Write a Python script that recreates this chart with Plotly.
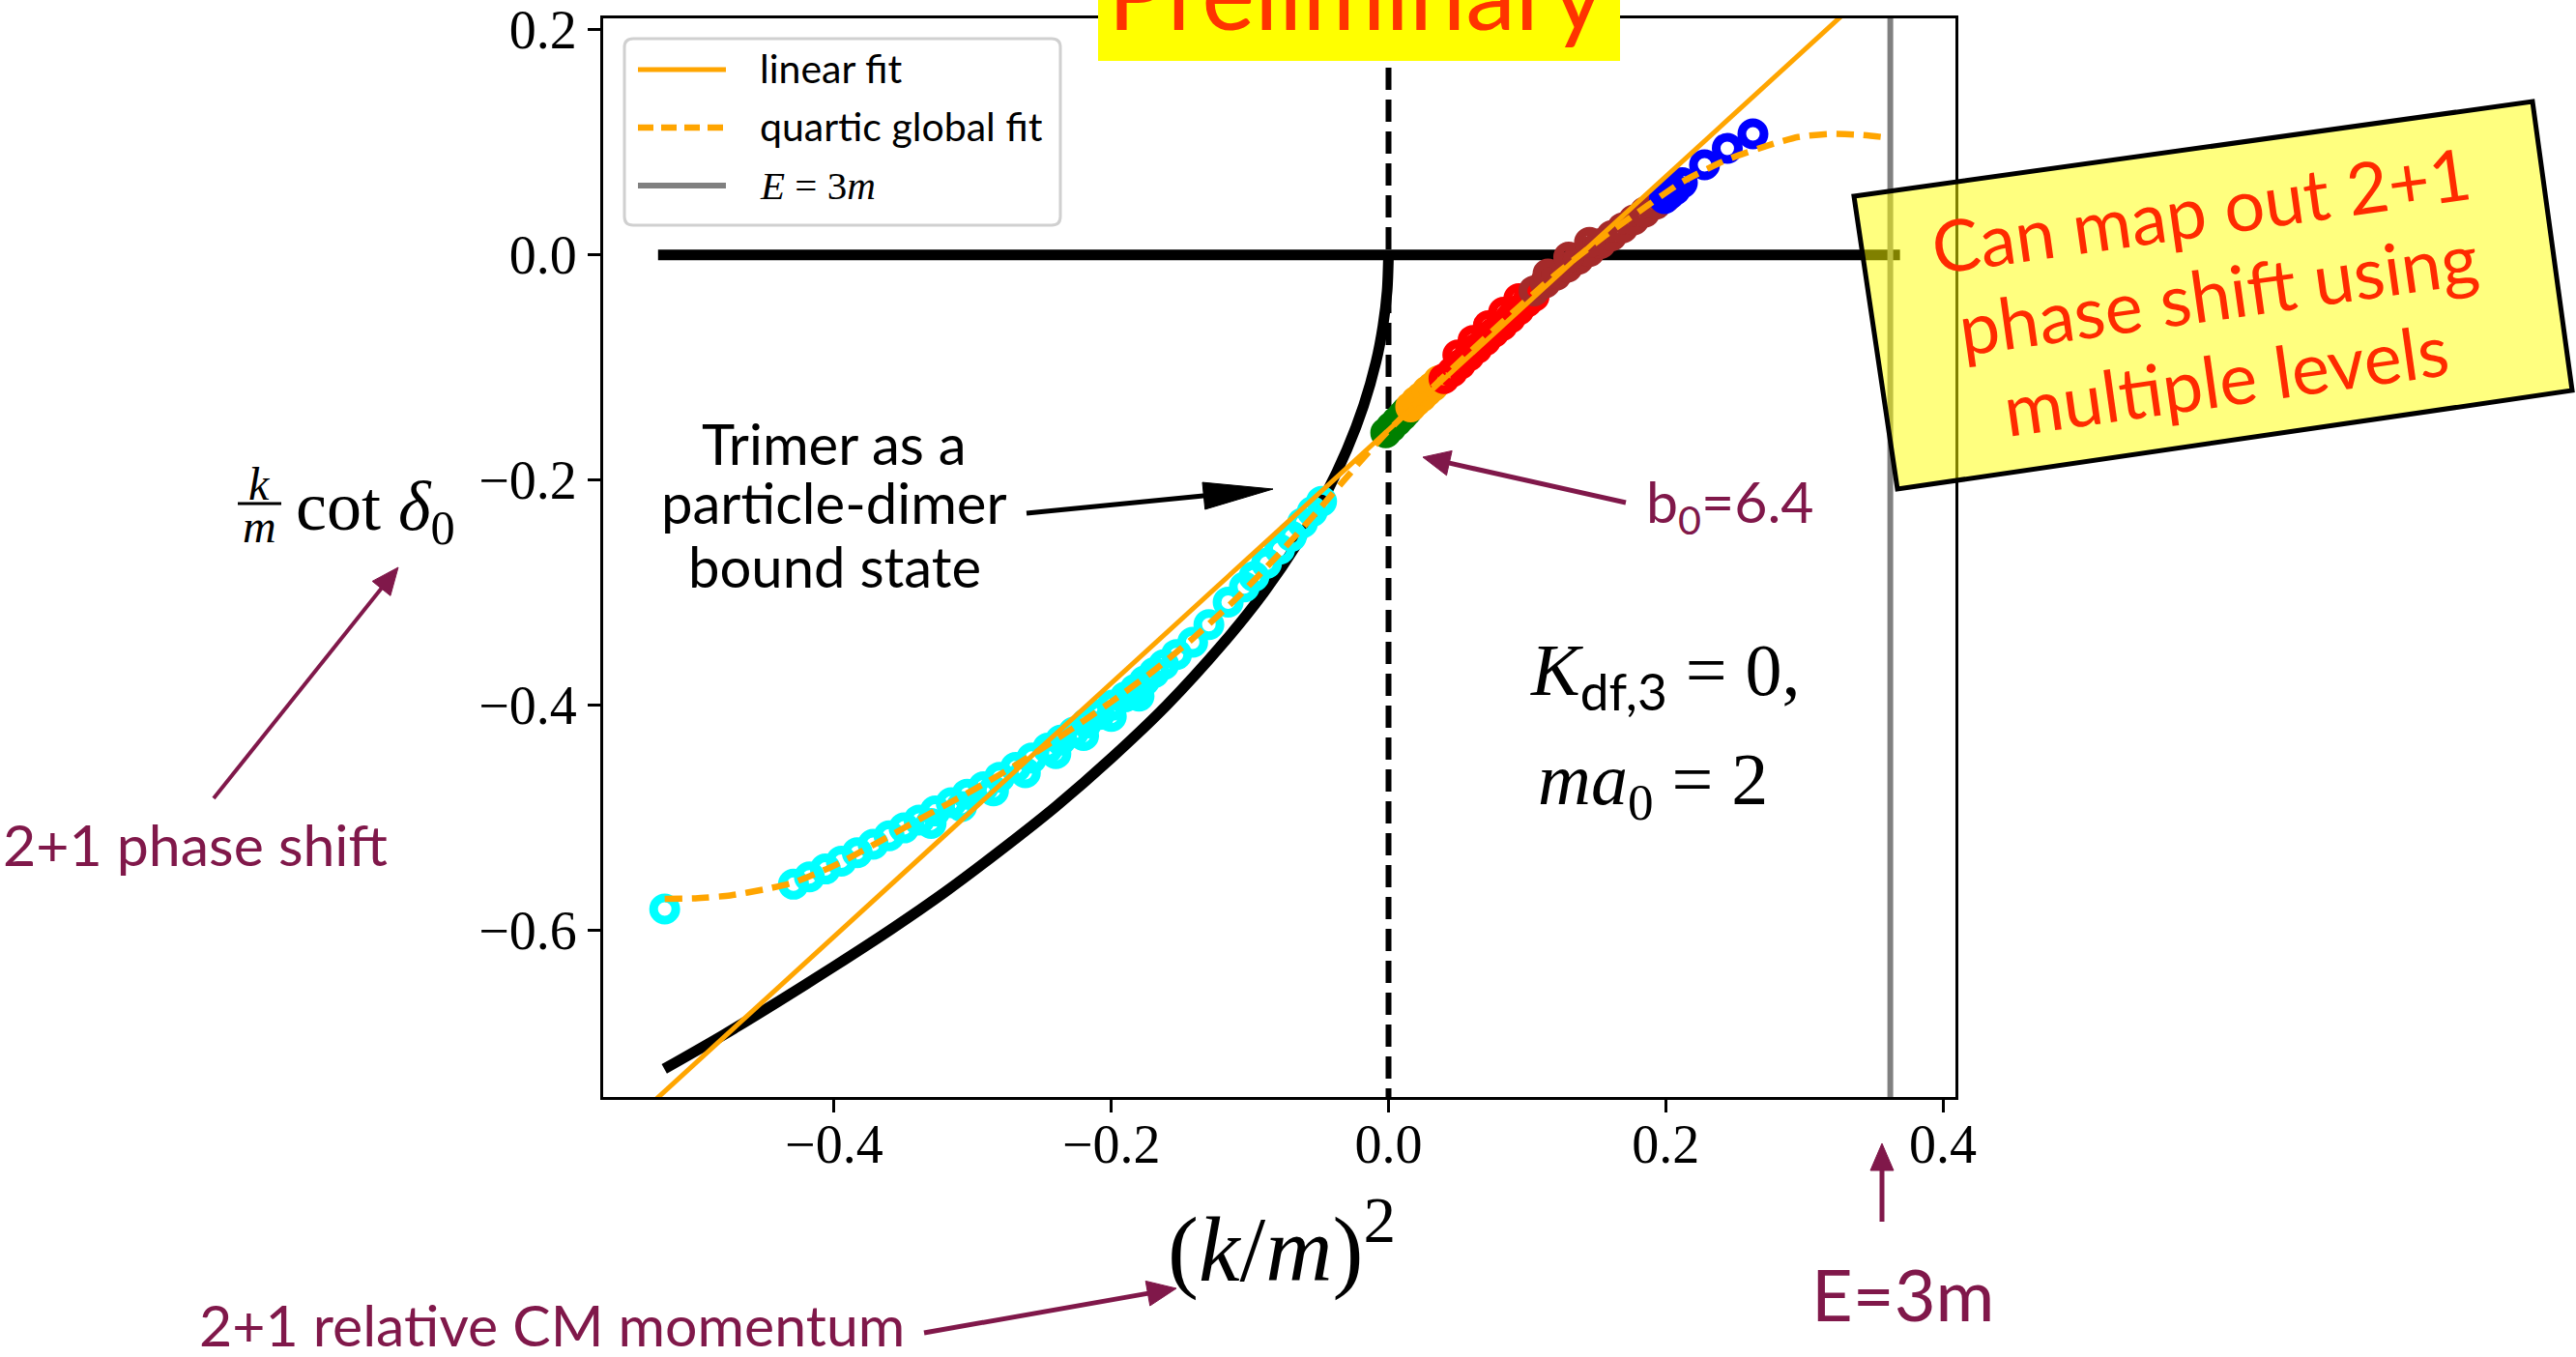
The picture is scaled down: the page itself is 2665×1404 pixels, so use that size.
import math
import plotly.graph_objects as go

W, H = 2665, 1404
PL, PR, PT, PB = 624, 2023, 19, 1135  # plot area in page pixels


def px(x):
    return (x - PL) / (PR - PL)


def py(y):
    return (PB - y) / (PB - PT)


# ---------------- data ----------------
# particle-dimer bound-state curve
bound_x = [-0.5225, -0.48, -0.44, -0.40, -0.36, -0.32, -0.28, -0.24, -0.20, -0.16,
           -0.12, -0.09, -0.065, -0.045, -0.03, -0.018, -0.009, -0.004, -0.001, 0.0]
bound_y = [-0.723, -0.693, -0.663, -0.632, -0.600, -0.566, -0.529, -0.490, -0.447, -0.400,
           -0.346, -0.300, -0.255, -0.212, -0.173, -0.134, -0.095, -0.063, -0.032, 0.0]

zero_x = [-0.527, 0.369]
zero_y = [0.0, 0.0]

threshold_x = [0.0, 0.0]
threshold_y = [-0.76, 0.22]

e3m_x = [0.362, 0.362]
e3m_y = [-0.76, 0.22]

# levels
cyan_x = [-0.5222, -0.4293, -0.4178, -0.4063, -0.3948, -0.3833, -0.3718, -0.3603, -0.3495,
          -0.3387, -0.3270, -0.3155, -0.3040, -0.2922, -0.2806, -0.2690, -0.2574, -0.2458,
          -0.2365, -0.2272, -0.2179, -0.2086, -0.1993, -0.1900, -0.1830, -0.1761, -0.1690,
          -0.1622, -0.1529, -0.1413, -0.1296, -0.1157, -0.1040, -0.0971, -0.0880, -0.0785,
          -0.0700, -0.0620, -0.0550, -0.0483,
          -0.3300, -0.3080, -0.2850, -0.2620, -0.2400, -0.2200, -0.2000, -0.1800]
cyan_y = [-0.581, -0.559, -0.5525, -0.5455, -0.5385, -0.531, -0.5235, -0.516, -0.509,
          -0.502, -0.494, -0.4866, -0.479, -0.4724, -0.464, -0.4553, -0.447, -0.4382,
          -0.431, -0.4239, -0.416, -0.4083, -0.400, -0.3926, -0.386, -0.3784, -0.371,
          -0.3641, -0.355, -0.3441, -0.3285, -0.3085, -0.295, -0.2857, -0.274, -0.2615,
          -0.250, -0.238, -0.228, -0.219,
          -0.505, -0.490, -0.476, -0.460, -0.443, -0.427, -0.410, -0.392]

green_x = [-0.002, 0.002, 0.006, 0.010, 0.013]
green_y = [-0.158, -0.153, -0.148, -0.143, -0.139]

orange_x = [0.016, 0.020, 0.024, 0.028, 0.032, 0.036]
orange_y = [-0.135, -0.130, -0.126, -0.121, -0.117, -0.112]

red_x = [0.040, 0.046, 0.052, 0.058, 0.064, 0.070, 0.076, 0.082, 0.088, 0.094, 0.100, 0.105,
         0.050, 0.061, 0.072, 0.083, 0.094]
red_y = [-0.110, -0.104, -0.097, -0.090, -0.083, -0.076, -0.069, -0.063, -0.056, -0.049,
         -0.042, -0.037,
         -0.089, -0.076, -0.063, -0.051, -0.039]

brown_x = [0.105, 0.113, 0.121, 0.129, 0.137, 0.145, 0.153, 0.161, 0.169, 0.177, 0.185,
           0.193, 0.200, 0.115, 0.130, 0.145]
brown_y = [-0.032, -0.025, -0.018, -0.011, -0.004, 0.003, 0.010, 0.017, 0.024, 0.031, 0.038,
           0.045, 0.051, -0.017, -0.002, 0.011]

blue_x = [0.199, 0.203, 0.207, 0.212, 0.228, 0.2444, 0.2629]
blue_y = [0.050, 0.054, 0.058, 0.064, 0.080, 0.0946, 0.1074]

# fits
linear_x = [-0.54, 0.34]
linear_y = [-0.763, 0.227]

quartic_x = [-0.5222, -0.50, -0.475, -0.45, -0.4293, -0.40, -0.37, -0.3387, -0.30, -0.27,
             -0.24, -0.20, -0.17, -0.14, -0.11, -0.08, -0.05, -0.02, 0.0, 0.04, 0.08, 0.12,
             0.1538, 0.1863, 0.2118, 0.2444, 0.2746, 0.2955, 0.3187, 0.3397, 0.3629]
quartic_y = [-0.572, -0.5715, -0.569, -0.5635, -0.5575, -0.5425, -0.523, -0.5015, -0.4755,
             -0.454, -0.4305, -0.397, -0.370, -0.3395, -0.3055, -0.267, -0.226, -0.183,
             -0.156, -0.108, -0.062, -0.018, 0.0148, 0.0433, 0.0647, 0.0846, 0.0974,
             0.1046, 0.1074, 0.1066, 0.1037]

x_ticks = [-0.4, -0.2, 0.0, 0.2, 0.4]
y_ticks = [-0.6, -0.4, -0.2, 0.0, 0.2]

ORANGE = "#ffa500"
MAROON = "#80184a"
NOTE_RED = "#ff2a00"
SERIF = "Liberation Serif"
SANS = "Lato"

fig = go.Figure()

fig.add_trace(go.Scatter(x=zero_x, y=zero_y, mode="lines",
                         line=dict(color="black", width=11)))
fig.add_trace(go.Scatter(x=bound_x, y=bound_y, mode="lines",
                         line=dict(color="black", width=11, shape="spline", smoothing=0.8)))
fig.add_trace(go.Scatter(x=threshold_x, y=threshold_y, mode="lines",
                         line=dict(color="black", width=6, dash="23px,10px")))


def level(xs, ys, color):
    fig.add_trace(go.Scatter(
        x=xs, y=ys, mode="markers",
        marker=dict(symbol="circle-open", size=23, color=color,
                    line=dict(color=color, width=9))))


level(cyan_x, cyan_y, "#00ffff")
level(green_x, green_y, "#008000")
level(orange_x, orange_y, ORANGE)
level(red_x, red_y, "#ff0000")
level(brown_x, brown_y, "#a52a2a")
level(blue_x, blue_y, "#0000ff")

fig.add_trace(go.Scatter(x=linear_x, y=linear_y, mode="lines",
                         line=dict(color=ORANGE, width=5)))
fig.add_trace(go.Scatter(x=quartic_x, y=quartic_y, mode="lines",
                         line=dict(color=ORANGE, width=6.5, dash="18px,10px",
                                   shape="spline", smoothing=0.6)))
fig.add_trace(go.Scatter(x=e3m_x, y=e3m_y, mode="lines",
                         line=dict(color="#808080", width=6)))

shapes = []
annotations = []


def text(x, baseline, s, size, color="black", family=SANS, xanchor="center",
         ascent=0.387, angle=0):
    annotations.append(dict(
        x=px(x), y=py(baseline - ascent * size), xref="paper", yref="paper",
        text=s, showarrow=False, xanchor=xanchor, yanchor="middle",
        textangle=angle, font=dict(family=family, size=size, color=color)))


def centered(x, y, s, size, color, family=SANS, angle=0):
    annotations.append(dict(
        x=px(x), y=py(y), xref="paper", yref="paper", text=s, showarrow=False,
        xanchor="center", yanchor="middle", textangle=angle,
        font=dict(family=family, size=size, color=color)))


def arrow(x0, y0, x1, y1, color, lw, head_len, head_half):
    dx, dy = x1 - x0, y1 - y0
    L = math.hypot(dx, dy)
    ux, uy = dx / L, dy / L
    bx, by = x1 - ux * head_len, y1 - uy * head_len
    nx, ny = -uy, ux
    shapes.append(dict(type="line", xref="paper", yref="paper",
                       x0=px(x0), y0=py(y0), x1=px(bx + ux * 2), y1=py(by + uy * 2),
                       line=dict(color=color, width=lw)))
    pts = [(x1, y1), (bx + nx * head_half, by + ny * head_half),
           (bx - nx * head_half, by - ny * head_half)]
    path = "M" + " L".join(f"{px(a):.5f},{py(b):.5f}" for a, b in pts) + " Z"
    shapes.append(dict(type="path", xref="paper", yref="paper", path=path,
                       fillcolor=color, line=dict(color=color, width=1)))


def poly(points, **kw):
    path = "M" + " L".join(f"{px(a):.5f},{py(b):.5f}" for a, b in points) + " Z"
    shapes.append(dict(type="path", xref="paper", yref="paper", path=path, **kw))


# legend box with rounded corners
lx0, ly0, lx1, ly1, r = 646, 40, 1097, 233, 9
lpath = (f"M{px(lx0 + r)},{py(ly0)} L{px(lx1 - r)},{py(ly0)} Q{px(lx1)},{py(ly0)} {px(lx1)},{py(ly0 + r)} "
         f"L{px(lx1)},{py(ly1 - r)} Q{px(lx1)},{py(ly1)} {px(lx1 - r)},{py(ly1)} "
         f"L{px(lx0 + r)},{py(ly1)} Q{px(lx0)},{py(ly1)} {px(lx0)},{py(ly1 - r)} "
         f"L{px(lx0)},{py(ly0 + r)} Q{px(lx0)},{py(ly0)} {px(lx0 + r)},{py(ly0)} Z")
shapes.append(dict(type="path", xref="paper", yref="paper", path=lpath,
                   fillcolor="rgba(255,255,255,0.85)", line=dict(color="#d0d0d0", width=3)))
for yy, col, dash, w in [(72, ORANGE, "solid", 5), (132, ORANGE, "16px,8px", 6.5),
                         (192, "#808080", "solid", 6)]:
    shapes.append(dict(type="line", xref="paper", yref="paper",
                       x0=px(660), x1=px(751), y0=py(yy), y1=py(yy),
                       line=dict(color=col, width=w, dash=dash)))
text(784, 86, "linear fit", 41, xanchor="left")
text(784, 146, "quartic global fit", 41, xanchor="left")
text(784, 206, "<i>E</i> = 3<i>m</i>", 41, family=SERIF, xanchor="left", ascent=0.34)

# "Preliminary" banner
poly([(1136, -20), (1676, -20), (1676, 63), (1136, 63)], fillcolor="#ffff00",
     line=dict(width=0), layer="above")
text(1402, 31, "Preliminary", 104, color="#ff3300")

# rotated note box
poly([(1918, 203), (2620, 105), (2661, 404), (1963, 506)],
     fillcolor="rgba(255,255,0,0.5)", line=dict(color="black", width=5), layer="above")
centered(2277, 216, "Can map out 2+1", 74, NOTE_RED, angle=-8)
centered(2294, 302, "phase shift using", 74, NOTE_RED, angle=-8)
centered(2303, 391, "multiple levels", 74, NOTE_RED, angle=-8)

# bound-state label
text(863, 481, "Trimer as a", 58)
text(863, 542, "particle-dimer", 58)
text(863, 608, "bound state", 58)
arrow(1062, 531, 1317, 506, "black", 5, 72, 14)

# parameters
text(1581, 724, "<i>K</i><sub><span style=\"font-family:Lato\">df,3</span></sub> = 0,", 76,
     family=SERIF, xanchor="left", ascent=0.34)
text(1589, 838, "<i>ma</i><sub>0</sub> = 2", 76, family=SERIF, xanchor="left", ascent=0.34)

# maroon call-outs
text(202, 896, "2+1 phase shift", 59, color=MAROON)
arrow(221, 826, 412, 587, MAROON, 4, 28, 12)
text(571, 1393, "2+1 relative CM momentum", 59, color=MAROON)
arrow(956, 1379, 1217, 1333, MAROON, 5, 30, 13)
text(1790, 545, "b<sub>0</sub>=6.4", 59, color=MAROON)
arrow(1682, 520, 1472, 473, MAROON, 5, 28, 13)
text(1968, 1367, "E=3m", 74, color=MAROON)
arrow(1947, 1264, 1947, 1183, MAROON, 5, 28, 12)

# axis titles
text(1326, 1318, "(<i>k</i>/<i>m</i>)<sup>2</sup>", 96, family=SERIF, ascent=0.34)
text(268, 517, "<i>k</i>", 48, family=SERIF, ascent=0.34)
shapes.append(dict(type="line", xref="paper", yref="paper", x0=px(246), x1=px(291),
                   y0=py(521), y1=py(521), line=dict(color="black", width=3)))
text(268, 561, "<i>m</i>", 48, family=SERIF, ascent=0.34)
text(304, 553, "cot <i>δ</i><sub>0</sub>", 72, family=SERIF, xanchor="left", ascent=0.34)

axis_common = dict(showline=True, linewidth=3, linecolor="black", mirror=True,
                   ticks="outside", ticklen=13, tickwidth=3, tickcolor="black",
                   showgrid=False, zeroline=False, tickformat=".1f", automargin=False,
                   tickfont=dict(family=SERIF, size=56, color="black"))
fig.update_xaxes(range=[-0.5666, 0.409], tickvals=x_ticks, ticklabelstandoff=-15, **axis_common)
fig.update_yaxes(range=[-0.748, 0.210], tickvals=y_ticks, **axis_common)

fig.update_layout(width=W, height=H, showlegend=False,
                  margin=dict(l=PL, r=W - PR, t=PT, b=H - PB, pad=0, autoexpand=False),
                  paper_bgcolor="white", plot_bgcolor="white",
                  shapes=shapes, annotations=annotations)

fig.write_html("out.html")
